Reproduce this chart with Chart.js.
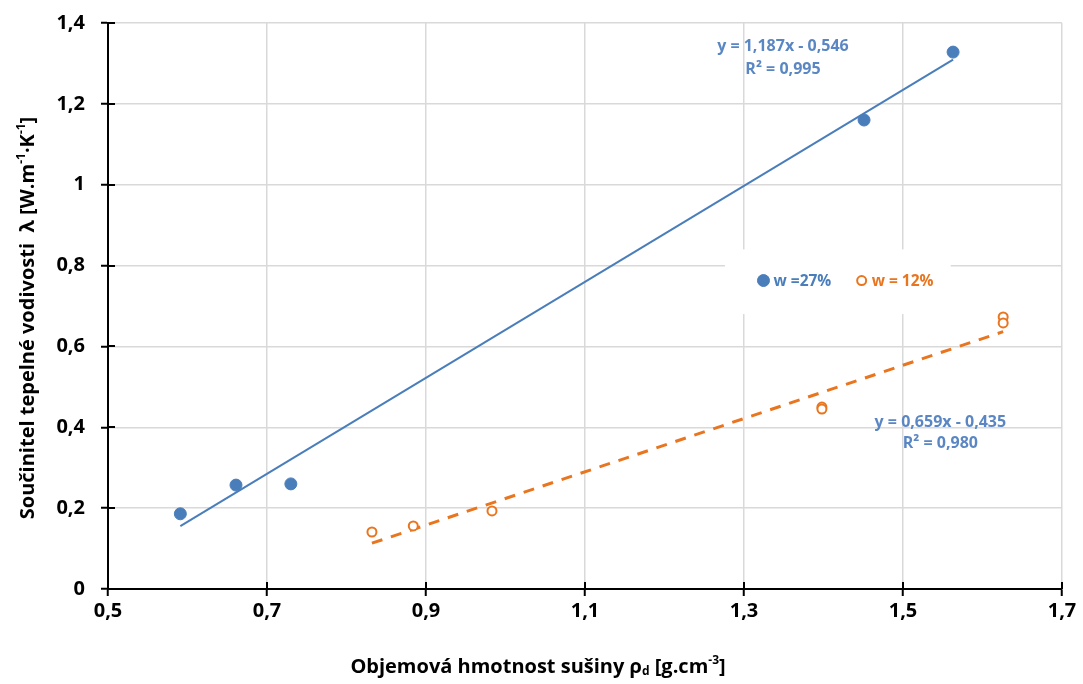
<!DOCTYPE html>
<html>
<head>
<meta charset="utf-8">
<script src="https://cdn.jsdelivr.net/npm/chart.js@4.4.1/dist/chart.umd.min.js"></script>
<style>
  html, body { margin: 0; padding: 0; background: #fff; }
  #wrap { width: 1083px; height: 684px; position: relative; }
</style>
</head>
<body>
<div id="wrap"><canvas id="chart" width="1083" height="684"></canvas></div>
<script>
const blueX = [0.591, 0.661, 0.730, 1.451, 1.563];
const blueY = [0.186, 0.257, 0.260, 1.160, 1.328];
const orangeX = [0.832, 0.884, 0.983, 1.398, 1.398, 1.626, 1.626];
const orangeY = [0.141, 0.156, 0.193, 0.450, 0.445, 0.673, 0.658];

// linear fits shown on the chart [slope, intercept]
const blueFit = [1.187, -0.546];
const orangeFit = [0.659, -0.435];
const blueFitText = ['y = 1,187x - 0,546', 'R² = 0,995'];
const orangeFitText = ['y = 0,659x - 0,435', 'R² = 0,980'];

const seriesLabels = ['w =27%', 'w = 12%'];

const BLUE = '#4a7ebb';
const ORANGE = '#e9751f';
const EQ_BLUE = '#5a87c4';
const FONT = '"Open Sans", Lato, sans-serif';

function toPoints(xs, ys) {
  return xs.map((x, i) => ({ x: x, y: ys[i] }));
}
function fitLine(xs, fit) {
  const x0 = Math.min(...xs), x1 = Math.max(...xs);
  return [{ x: x0, y: fit[0] * x0 + fit[1] }, { x: x1, y: fit[0] * x1 + fit[1] }];
}
function fmt(v) {
  return String(Math.round(v * 10) / 10).replace('.', ',');
}

// draws a string made of normal / sup / sub pieces, centred on (0,0)
function drawRich(ctx, parts, size) {
  const big = 'bold ' + size + 'px ' + FONT;
  const small = 'bold ' + Math.round(size * 0.62) + 'px ' + FONT;
  let total = 0;
  parts.forEach(p => { ctx.font = p.k ? small : big; total += ctx.measureText(p.t).width; });
  let x = -total / 2;
  ctx.textBaseline = 'middle';
  ctx.textAlign = 'left';
  parts.forEach(p => {
    ctx.font = p.k ? small : big;
    let dy = 0;
    if (p.k === 'sup') dy = -size * 0.33;
    if (p.k === 'sub') dy = size * 0.25;
    ctx.fillText(p.t, x, dy);
    x += ctx.measureText(p.t).width;
  });
}

const extras = {
  id: 'extras',
  afterDraw(chart) {
    const ctx = chart.ctx;
    const xs = chart.scales.x, ys = chart.scales.y;
    const area = chart.chartArea;

    // inner half of the cross tick marks
    ctx.save();
    ctx.strokeStyle = '#000';
    ctx.lineWidth = 2;
    ys.ticks.forEach(t => {
      const py = Math.round(ys.getPixelForValue(t.value));
      ctx.beginPath(); ctx.moveTo(area.left, py); ctx.lineTo(area.left + 7, py); ctx.stroke();
    });
    xs.ticks.forEach(t => {
      const px = Math.round(xs.getPixelForValue(t.value));
      ctx.beginPath(); ctx.moveTo(px, area.bottom); ctx.lineTo(px, area.bottom - 7); ctx.stroke();
    });

    // trendline equations
    ctx.fillStyle = EQ_BLUE;
    ctx.font = 'bold 16px ' + FONT;
    ctx.textAlign = 'center';
    ctx.textBaseline = 'middle';
    const bx = xs.getPixelForValue(1.349), by = ys.getPixelForValue(1.341);
    ctx.fillText(blueFitText[0], bx, by);
    ctx.fillText(blueFitText[1], bx, by + 23);
    const ox = xs.getPixelForValue(1.547), oy = ys.getPixelForValue(0.413);
    ctx.fillText(orangeFitText[0], ox, oy);
    ctx.fillText(orangeFitText[1], ox, oy + 21);

    // legend inside the plot
    const lx = xs.getPixelForValue(1.276), lw = xs.getPixelForValue(1.56) - lx;
    const ly = ys.getPixelForValue(0.84), lh = ys.getPixelForValue(0.68) - ly;
    ctx.fillStyle = '#fff';
    ctx.fillRect(lx, ly, lw, lh);
    const cy = ys.getPixelForValue(0.763);
    const items = [
      { x: xs.getPixelForValue(1.3245), ds: chart.data.datasets[0] },
      { x: xs.getPixelForValue(1.448), ds: chart.data.datasets[1] }
    ];
    ctx.font = 'bold 15.5px ' + FONT;
    ctx.textAlign = 'left';
    items.forEach(it => {
      ctx.beginPath();
      ctx.arc(it.x, cy, it.ds.pointRadius, 0, Math.PI * 2);
      ctx.fillStyle = it.ds.pointBackgroundColor;
      ctx.fill();
      ctx.lineWidth = it.ds.pointBorderWidth;
      ctx.strokeStyle = it.ds.pointBorderColor;
      ctx.stroke();
      ctx.fillStyle = it.ds.pointBorderColor;
      ctx.fillText(it.ds.label, it.x + 10, cy + 1);
    });

    // axis titles
    ctx.fillStyle = '#000';
    ctx.save();
    ctx.translate(538, 667);
    drawRich(ctx, [
      { t: 'Objemová hmotnost sušiny ρ' }, { t: 'd', k: 'sub' },
      { t: ' [g.cm' }, { t: '-3', k: 'sup' }, { t: ']' }
    ], 20);
    ctx.restore();
    ctx.save();
    ctx.translate(28, 318);
    ctx.rotate(-Math.PI / 2);
    drawRich(ctx, [
      { t: 'Součinitel tepelné vodivosti  λ [W.m' }, { t: '-1', k: 'sup' },
      { t: '·K' }, { t: '-1', k: 'sup' }, { t: ']' }
    ], 20);
    ctx.restore();
    ctx.restore();
  }
};

const tickFont = { family: FONT, size: 20, weight: 'bold' };

new Chart(document.getElementById('chart'), {
  type: 'scatter',
  data: {
    datasets: [
      {
        label: seriesLabels[0],
        data: toPoints(blueX, blueY),
        pointRadius: 6,
        pointBackgroundColor: BLUE,
        pointBorderColor: BLUE,
        pointBorderWidth: 1,
        order: 1
      },
      {
        label: seriesLabels[1],
        data: toPoints(orangeX, orangeY),
        pointRadius: 4.5,
        pointBackgroundColor: '#fff',
        pointBorderColor: ORANGE,
        pointBorderWidth: 2,
        order: 1
      },
      {
        type: 'line',
        label: 'fit27',
        data: fitLine(blueX, blueFit),
        borderColor: BLUE,
        borderWidth: 2,
        pointRadius: 0,
        order: 2
      },
      {
        type: 'line',
        label: 'fit12',
        data: fitLine(orangeX, orangeFit),
        borderColor: ORANGE,
        borderWidth: 3,
        borderDash: [11, 9],
        pointRadius: 0,
        order: 2
      }
    ]
  },
  options: {
    responsive: false,
    animation: false,
    layout: { padding: { top: 23, right: 21, left: 0, bottom: 0 } },
    plugins: { legend: { display: false }, tooltip: { enabled: false } },
    scales: {
      x: {
        type: 'linear',
        min: 0.5, max: 1.7,
        ticks: { stepSize: 0.2, maxRotation: 0, autoSkip: false, color: '#000', font: tickFont, padding: 3, callback: v => fmt(v) },
        grid: { color: '#d9d9d9', lineWidth: 1.5, tickColor: '#000', tickLength: 7, tickWidth: 2 },
        border: { color: '#000', width: 2 },
        afterFit: s => { s.height = 95; s.paddingLeft = 0; s.paddingRight = 0; }
      },
      y: {
        min: 0, max: 1.4,
        ticks: { stepSize: 0.2, autoSkip: false, color: '#000', font: tickFont, padding: 16, callback: v => fmt(v) },
        grid: { color: '#d9d9d9', lineWidth: 1.5, tickColor: '#000', tickLength: 7, tickWidth: 2 },
        border: { color: '#000', width: 2 },
        afterFit: s => { s.width = 108; s.paddingTop = 0; s.paddingBottom = 0; }
      }
    }
  },
  plugins: [extras]
});
</script>
</body>
</html>
